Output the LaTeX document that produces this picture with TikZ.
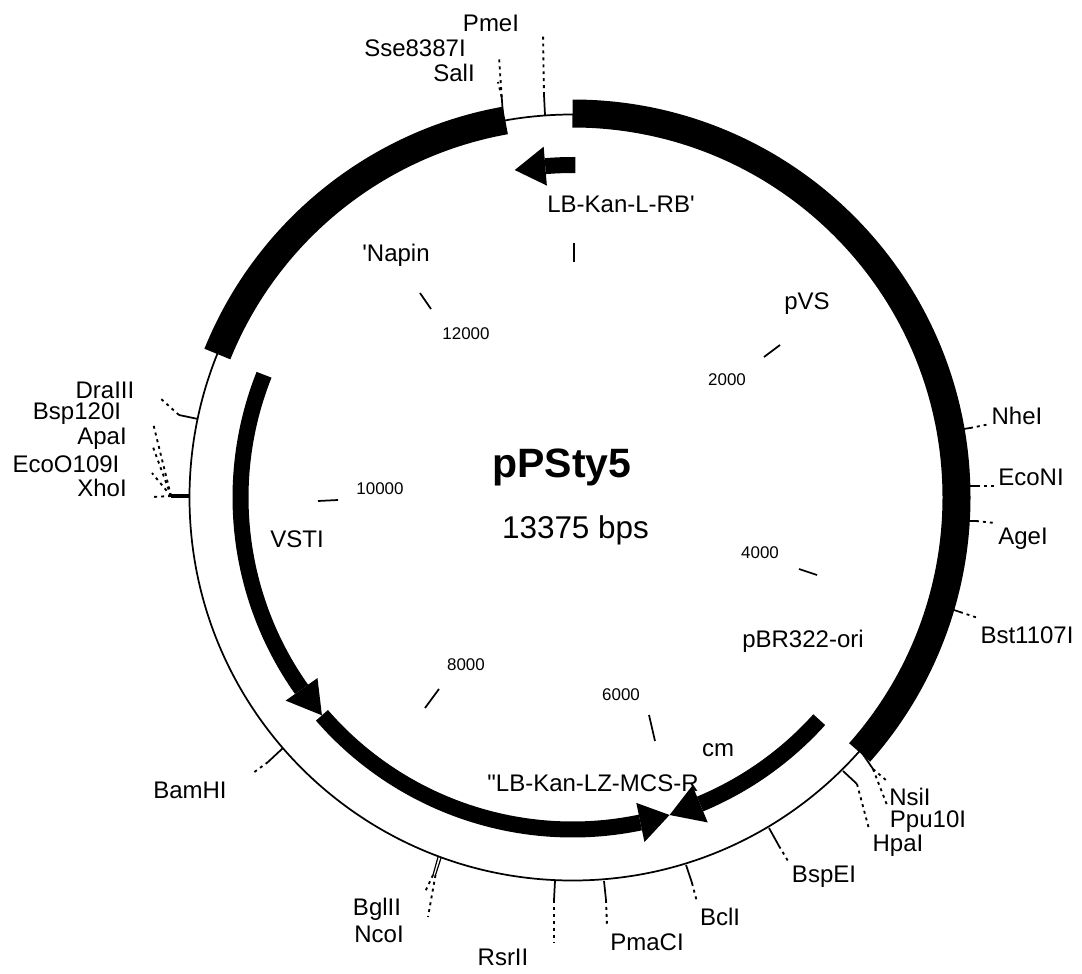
\documentclass[tikz,border=0pt]{standalone}
\usepackage{fontspec}
\setmainfont[Ligatures=TeXOff]{Liberation Sans}
\usepackage{tikz}
\usetikzlibrary{calc}

\begin{document}
\begin{tikzpicture}[
x=0.75pt,
y=0.75pt,
ring/.style={draw,line width=1.3pt},
band/.style={draw,line width=21pt},
feature/.style={draw,line width=12pt},
head/.style={fill=black},
solidtick/.style={draw,line width=1.3pt},
dots/.style={draw,line width=1.4pt,dash pattern=on 2.2pt off 3pt},
sitelabel/.style={font=\fontsize{18}{20}\selectfont,inner sep=0pt},
featurelabel/.style={font=\fontsize{18}{20}\selectfont,inner sep=0pt},
scalemark/.style={font=\fontsize{12.7}{14}\selectfont,inner sep=0pt}
]

\useasboundingbox (0,-974) rectangle (1082,0);

\coordinate (centre) at (572.5,-497.5);

\draw[ring] (centre) circle[radius=383];

\node[font=\bfseries\fontsize{30.75}{34}\selectfont,inner sep=0pt] (title) at (562,-467) {pPSty5};
\node[font=\fontsize{23.6}{26}\selectfont,inner sep=0pt] (size) at (575.5,-530) {13375 bps};

\node[featurelabel] (lbkanl) at (621,-204) {LB-Kan-L-RB'};
\node[featurelabel] (napin) at (396,-255) {'Napin};
\node[featurelabel] (pvs) at (807,-304) {pVS};
\node[featurelabel] (ori) at (803,-641) {pBR322-ori};
\node[featurelabel] (cm) at (718,-750) {cm};
\node[featurelabel] (lbkanlz) at (593,-783) {"LB-Kan-LZ-MCS-R};
\node[featurelabel] (vsti) at (297,-539) {VSTI};

\node[scalemark] (m12000) at (466,-334) {12000};
\node[scalemark] (m2000) at (727,-380) {2000};
\node[scalemark] (m4000) at (760,-553) {4000};
\node[scalemark] (m6000) at (621,-695) {6000};
\node[scalemark] (m8000) at (466,-665) {8000};
\node[scalemark] (m10000) at (380,-489) {10000};

\draw[solidtick] (574,-243) -- (574,-262);
\draw[solidtick] (420,-293) -- (431,-309);
\draw[solidtick] (764,-357) -- (780,-345);
\draw[solidtick] (799,-569) -- (817,-575);
\draw[solidtick] (649,-715) -- (655,-741);
\draw[solidtick] (439,-689) -- (425,-708);
\draw[solidtick] (318,-501) -- (338,-500);

\node[sitelabel] (pmei) at (491,-23) {PmeI};
\node[sitelabel] (sse) at (415,-48) {Sse8387I};
\node[sitelabel] (sali) at (454,-73) {SalI};
\node[sitelabel] (nhei) at (1017,-416) {NheI};
\node[sitelabel] (econi) at (1031,-477) {EcoNI};
\node[sitelabel] (agei) at (1023,-539) {AgeI};
\node[sitelabel] (bst) at (1027,-635) {Bst1107I};
\node[sitelabel] (nsii) at (910,-797) {NsiI};
\node[sitelabel] (ppu) at (928,-822) {Ppu10I};
\node[sitelabel] (hpai) at (898,-846) {HpaI};
\node[sitelabel] (bspei) at (824,-877) {BspEI};
\node[sitelabel] (bcli) at (720,-917) {BclI};
\node[sitelabel] (pmaci) at (647,-942) {PmaCI};
\node[sitelabel] (rsrii) at (503,-957) {RsrII};
\node[sitelabel] (bglii) at (377,-909) {BglII};
\node[sitelabel] (ncoi) at (379,-934) {NcoI};
\node[sitelabel] (bamhi) at (190,-790) {BamHI};
\node[sitelabel] (xhoi) at (102,-488) {XhoI};
\node[sitelabel] (eco) at (66,-464) {EcoO109I};
\node[sitelabel] (apai) at (102,-439) {ApaI};
\node[sitelabel] (bsp) at (77,-414) {Bsp120I};
\node[sitelabel] (draiii) at (105,-390) {DraIII};

\coordinate (pmeia) at (545,-115);
\coordinate (pmeib) at (544,-95);
\coordinate (pmeic) at (543,-33);
\draw[solidtick] (pmeia) -- (pmeib);
\draw[dots] (pmeib) -- (pmeic);

\coordinate (salia) at (503,-115);
\coordinate (salib) at (501.7,-97);
\coordinate (salic) at (498,-82);
\coordinate (ssec) at (499,-57);
\draw[solidtick] (salia) -- (salib);
\draw[dots] (salib) -- (salic);
\draw[dots] (salib) -- (ssec);

\coordinate (nheia) at (950,-431);
\coordinate (nheib) at (970,-428);
\coordinate (nheic) at (990,-424);
\draw[solidtick] (nheia) -- (nheib);
\draw[dots] (nheib) -- (nheic);

\coordinate (econia) at (955,-486);
\coordinate (econib) at (977,-486);
\coordinate (econic) at (997,-486);
\draw[solidtick] (econia) -- (econib);
\draw[dots] (econib) -- (econic);

\coordinate (ageia) at (955,-521);
\coordinate (ageib) at (976,-521);
\coordinate (ageic) at (995,-523);
\draw[solidtick] (ageia) -- (ageib);
\draw[dots] (ageib) -- (ageic);

\coordinate (bsta) at (945,-607);
\coordinate (bstb) at (960,-612);
\coordinate (bstc) at (978,-618);
\draw[solidtick] (bsta) -- (bstb);
\draw[dots] (bstb) -- (bstc);

\coordinate (nsiia) at (860,-750);
\coordinate (nsiib) at (873,-769);
\coordinate (nsiic) at (887,-781);
\coordinate (ppuc) at (887,-805);
\draw[solidtick] (nsiia) -- (nsiib);
\draw[dots] (nsiib) -- (nsiic);
\draw[dots] (nsiib) -- (ppuc);

\coordinate (hpaia) at (843,-771);
\coordinate (hpaib) at (857,-784);
\coordinate (hpaic) at (869,-829);
\draw[solidtick] (hpaia) -- (hpaib);
\draw[dots] (hpaib) -- (hpaic);

\coordinate (bspeia) at (769,-828);
\coordinate (bspeib) at (779,-846);
\coordinate (bspeic) at (788,-861);
\draw[solidtick] (bspeia) -- (bspeib);
\draw[dots] (bspeib) -- (bspeic);

\coordinate (bclia) at (686,-865);
\coordinate (bclib) at (692,-883);
\coordinate (bclic) at (697,-902);
\draw[solidtick] (bclia) -- (bclib);
\draw[dots] (bclib) -- (bclic);

\coordinate (pmacia) at (604,-881);
\coordinate (pmacib) at (606,-900);
\coordinate (pmacic) at (607,-926);
\draw[solidtick] (pmacia) -- (pmacib);
\draw[dots] (pmacib) -- (pmacic);

\coordinate (rsriia) at (555,-881);
\coordinate (rsriib) at (554,-900);
\coordinate (rsriic) at (554,-943);
\draw[solidtick] (rsriia) -- (rsriib);
\draw[dots] (rsriib) -- (rsriic);

\coordinate (bgliia) at (438,-857);
\coordinate (bgliib) at (433,-875);
\coordinate (bgliic) at (425,-892);
\coordinate (ncoia) at (441,-858);
\coordinate (ncoib) at (435.5,-875);
\coordinate (ncoic) at (428,-917);
\draw[draw,line width=0.9pt] (bgliia) -- (bgliib);
\draw[dots] (bgliib) -- (bgliic);
\draw[draw,line width=0.9pt] (ncoia) -- (ncoib);
\draw[dots] (ncoib) -- (ncoic);

\coordinate (bamhia) at (283,-748);
\coordinate (bamhib) at (268,-762);
\coordinate (bamhic) at (253,-773);
\draw[solidtick] (bamhia) -- (bamhib);
\draw[dots] (bamhib) -- (bamhic);

\coordinate (xhoia) at (190,-496);
\coordinate (xhoib) at (171,-496);
\coordinate (xhoic) at (152,-497);
\coordinate (ecoc) at (152,-473);
\coordinate (apaic) at (153,-447);
\coordinate (bspc) at (153,-423);
\draw[solidtick,line width=2.6pt] (xhoia) -- (xhoib);
\draw[dots] (xhoib) -- (xhoic);
\draw[dots] (xhoib) -- (ecoc);
\draw[dots] (xhoib) -- (apaic);
\draw[dots] (xhoib) -- (bspc);

\coordinate (draiiia) at (198,-419);
\coordinate (draiiib) at (179,-415);
\coordinate (draiiic) at (160,-398);
\draw[solidtick] (draiiia) -- (draiiib);
\draw[dots] (draiiib) -- (draiiic);

\begin{scope}[shift={(centre)}]
\draw[band] (90:384) arc[start angle=90,end angle=-41.6,radius=384];
\draw[band] (100.1:383) arc[start angle=100.1,end angle=158,radius=383];

\draw[feature] (89.5:332.5) arc[start angle=89.5,end angle=94.7,radius=332.5];
\fill[head] (94.7:352) -- (100:332.5) -- (94.7:313) -- cycle;

\draw[feature] (158.3:332) arc[start angle=158.3,end angle=215.3,radius=332];
\fill[head] (215.3:351.5) -- (221:332) -- (215.3:312.5) -- cycle;

\draw[feature] (221:332) arc[start angle=221,end angle=281.8,radius=332];
\fill[head] (281.8:352) -- (287:332) -- (281.8:312) -- cycle;

\draw[feature] (-42:332) arc[start angle=-42,end angle=-67.4,radius=332];
\fill[head] (-67.4:352) -- (-73:332) -- (-67.4:312) -- cycle;
\end{scope}

\end{tikzpicture}
\end{document}
